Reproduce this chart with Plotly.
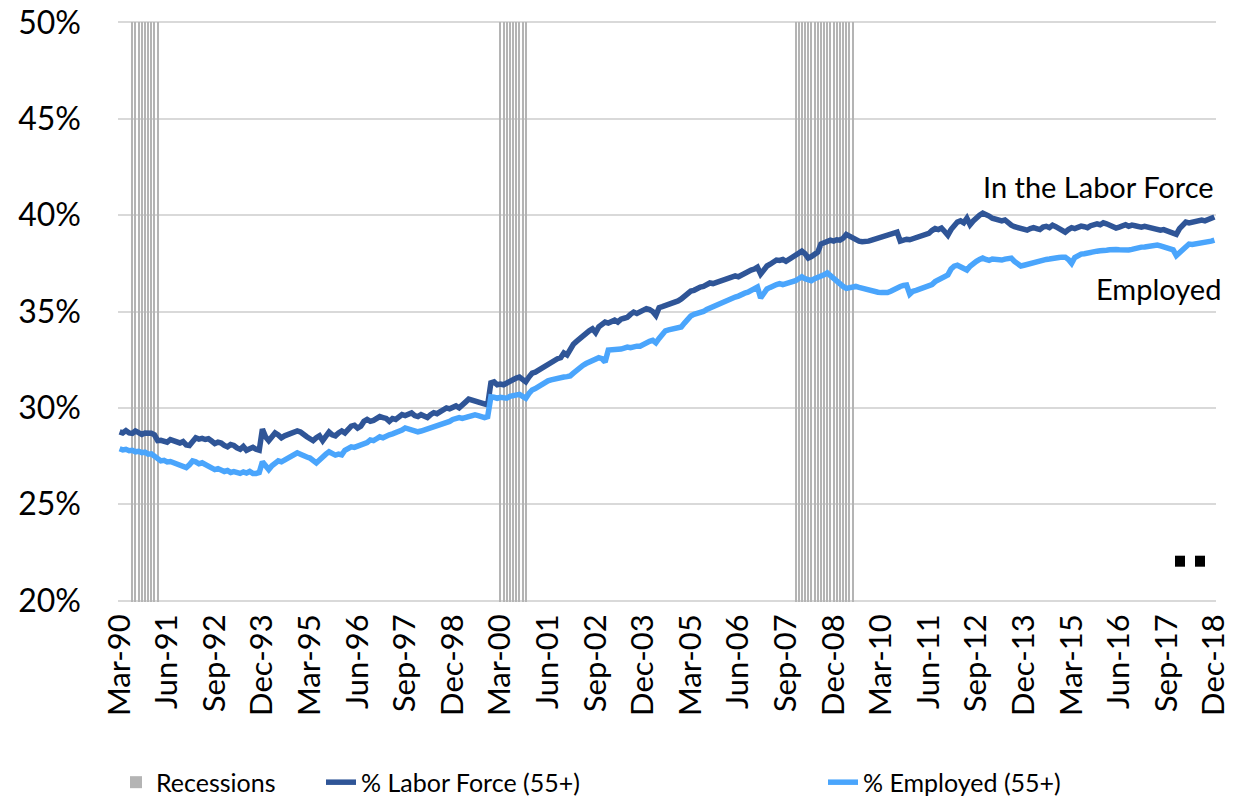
import pandas as pd
import plotly.graph_objects as go

# ---------------- data ----------------
months = pd.date_range("1990-03-01", "2018-12-01", freq="MS").strftime("%b-%y").tolist()

labor_force = [
    28.76, 28.7, 28.82, 28.7, 28.68, 28.8, 28.72, 28.62, 28.7, 28.72, 28.68, 28.6,
    28.3, 28.32, 28.28, 28.22, 28.35, 28.3, 28.22, 28.18, 28.25, 28.08, 28.05, 28.3,
    28.45, 28.38, 28.42, 28.36, 28.4, 28.28, 28.15, 28.22, 28.18, 28.05, 27.98, 28.1,
    28.05, 27.92, 27.85, 28.0, 27.8, 27.88, 27.95, 27.85, 27.8, 28.9, 28.5, 28.3,
    28.5, 28.7, 28.6, 28.45, 28.55, 28.6, 28.65, 28.7, 28.8, 28.75, 28.6, 28.5,
    28.4, 28.3, 28.45, 28.55, 28.3, 28.5, 28.75, 28.6, 28.55, 28.7, 28.8, 28.7,
    28.9, 29.05, 29.1, 28.95, 29.05, 29.3, 29.4, 29.3, 29.35, 29.45, 29.55, 29.5,
    29.45, 29.3, 29.45, 29.4, 29.55, 29.65, 29.6, 29.7, 29.74, 29.6, 29.55, 29.65,
    29.6, 29.5, 29.65, 29.75, 29.7, 29.8, 29.9, 30.0, 29.95, 30.05, 30.1, 30.0,
    30.2, 30.3, 30.45, 30.4, 30.35, 30.25, 30.2, 30.15, 30.15, 31.3, 31.35, 31.2,
    31.24, 31.2, 31.3, 31.35, 31.45, 31.55, 31.6, 31.5, 31.35, 31.6, 31.8, 31.85,
    31.95, 32.1, 32.2, 32.3, 32.4, 32.5, 32.55, 32.6, 32.85, 32.75, 33.1, 33.3,
    33.45, 33.6, 33.75, 33.85, 34.0, 34.1, 33.9, 34.2, 34.3, 34.45, 34.4, 34.5,
    34.55, 34.45, 34.6, 34.65, 34.7, 34.85, 34.97, 34.9, 35.0, 35.05, 35.15, 35.1,
    35.0, 34.8, 35.2, 35.25, 35.3, 35.35, 35.44, 35.5, 35.55, 35.65, 35.8, 35.95,
    36.06, 36.1, 36.2, 36.27, 36.3, 36.4, 36.48, 36.45, 36.5, 36.53, 36.6, 36.7,
    36.75, 36.8, 36.85, 36.8, 36.9, 37.0, 37.05, 37.15, 37.2, 37.3, 36.94, 37.2,
    37.36, 37.45, 37.55, 37.67, 37.65, 37.7, 37.6, 37.7, 37.85, 37.9, 38.0, 38.13,
    38.0, 37.77, 37.85, 37.95, 38.08, 38.5, 38.55, 38.6, 38.7, 38.65, 38.72, 38.7,
    38.8, 39.0, 38.9, 38.8, 38.7, 38.65, 38.62, 38.6, 38.65, 38.7, 38.75, 38.8,
    38.9, 38.96, 39.0, 39.05, 39.1, 39.12, 38.65, 38.7, 38.75, 38.72, 38.78, 38.8,
    38.85, 38.9, 38.96, 39.05, 39.2, 39.3, 39.25, 39.33, 39.15, 38.96, 39.25, 39.5,
    39.64, 39.7, 39.6, 39.84, 39.5, 39.7, 39.9, 40.0, 40.1, 40.05, 39.95, 39.84,
    39.8, 39.75, 39.7, 39.75, 39.6, 39.48, 39.4, 39.35, 39.3, 39.25, 39.22, 39.3,
    39.35, 39.3, 39.25, 39.38, 39.42, 39.35, 39.48, 39.4, 39.3, 39.25, 39.12, 39.25,
    39.35, 39.3, 39.38, 39.43, 39.4, 39.35, 39.45, 39.5, 39.55, 39.5, 39.6, 39.55,
    39.45, 39.4, 39.33, 39.38, 39.45, 39.5, 39.42, 39.48, 39.45, 39.4, 39.38, 39.42,
    39.38, 39.33, 39.28, 39.3, 39.22, 39.25, 39.2, 39.15, 39.1, 39.0, 39.3, 39.5,
    39.64, 39.6, 39.65, 39.7, 39.68, 39.74, 39.7, 39.75, 39.8, 39.9,
]

employed = [
    27.88, 27.82, 27.85, 27.78, 27.8, 27.72, 27.75, 27.68, 27.7, 27.6, 27.62, 27.5,
    27.3, 27.25, 27.28, 27.2, 27.22, 27.15, 27.1, 27.05, 27.0, 26.9, 27.05, 27.25,
    27.2, 27.1, 27.15, 27.05, 27.0, 26.9, 26.8, 26.85, 26.75, 26.7, 26.75, 26.65,
    26.7, 26.62, 26.6, 26.68, 26.62, 26.7, 26.6, 26.6, 26.65, 27.2, 27.0, 26.8,
    27.0, 27.15, 27.25, 27.2, 27.3, 27.4, 27.45, 27.55, 27.67, 27.6, 27.5, 27.45,
    27.4, 27.3, 27.15, 27.3, 27.5, 27.6, 27.72, 27.65, 27.55, 27.6, 27.56, 27.8,
    27.9, 27.98, 27.95, 28.0, 28.03, 28.1, 28.2, 28.34, 28.3, 28.4, 28.5, 28.45,
    28.55, 28.6, 28.65, 28.7, 28.75, 28.85, 28.96, 28.9, 28.85, 28.8, 28.76, 28.8,
    28.85, 28.9, 28.95, 29.0, 29.05, 29.1, 29.15, 29.25, 29.3, 29.4, 29.45, 29.5,
    29.45, 29.5, 29.55, 29.6, 29.64, 29.6, 29.55, 29.5, 29.55, 30.57, 30.55, 30.5,
    30.55, 30.5, 30.5, 30.6, 30.65, 30.67, 30.7, 30.6, 30.5, 30.75, 30.93, 31.0,
    31.1, 31.2, 31.35, 31.4, 31.45, 31.5, 31.52, 31.55, 31.6, 31.62, 31.66, 31.8,
    31.95, 32.07, 32.2, 32.3, 32.38, 32.45, 32.5, 32.6, 32.55, 32.38, 33.0, 33.0,
    33.05, 33.0, 33.05, 33.1, 33.15, 33.12, 33.18, 33.2, 33.2, 33.3, 33.42, 33.45,
    33.5, 33.37, 33.6, 33.8, 34.0, 34.05, 34.1, 34.1, 34.15, 34.2, 34.4, 34.6,
    34.77, 34.85, 34.9, 34.92, 35.0, 35.1, 35.18, 35.25, 35.3, 35.4, 35.5, 35.55,
    35.6, 35.7, 35.75, 35.8, 35.9, 35.95, 36.0, 36.1, 36.2, 36.27, 35.7, 36.0,
    36.17, 36.25, 36.35, 36.4, 36.45, 36.4, 36.45, 36.5, 36.5, 36.6, 36.7, 36.8,
    36.7, 36.65, 36.6, 36.7, 36.75, 36.8, 36.9, 37.0, 36.85, 36.7, 36.6, 36.45,
    36.3, 36.2, 36.25, 36.3, 36.3, 36.25, 36.2, 36.15, 36.1, 36.1, 36.05, 36.0,
    35.98, 35.95, 35.98, 36.05, 36.15, 36.27, 36.3, 36.35, 36.37, 35.9, 36.05, 36.1,
    36.15, 36.2, 36.25, 36.35, 36.4, 36.55, 36.63, 36.7, 36.8, 36.9, 37.2, 37.35,
    37.4, 37.3, 37.2, 37.15, 37.35, 37.5, 37.6, 37.7, 37.77, 37.7, 37.65, 37.72,
    37.7, 37.68, 37.67, 37.72, 37.75, 37.77, 37.6, 37.45, 37.36, 37.4, 37.45, 37.5,
    37.55, 37.57, 37.6, 37.65, 37.7, 37.72, 37.77, 37.75, 37.8, 37.82, 37.82, 37.7,
    37.5, 37.8, 37.9, 37.98, 38.0, 38.05, 38.1, 38.1, 38.13, 38.15, 38.2, 38.18,
    38.2, 38.24, 38.22, 38.2, 38.18, 38.15, 38.19, 38.22, 38.28, 38.3, 38.34, 38.35,
    38.38, 38.4, 38.42, 38.45, 38.4, 38.35, 38.3, 38.25, 38.2, 37.9, 38.05, 38.2,
    38.35, 38.5, 38.48, 38.5, 38.52, 38.55, 38.58, 38.6, 38.65, 38.7,
]

recession_starts = ["Jul-90", "Mar-00", "Dec-07"]
recession_ends = ["Mar-91", "Nov-00", "Jun-09"]
recession_level = 50

tick_labels = months[::15]
y_ticks = [20, 25, 30, 35, 40, 45, 50]

# recession indicator per month
recession = [None] * len(months)
for s, e in zip(recession_starts, recession_ends):
    for i in range(months.index(s), months.index(e) + 1):
        recession[i] = recession_level

FONT = "Lato"
DARK = "#2F5597"
LIGHT = "#4AA5FC"

fig = go.Figure()
fig.add_trace(go.Bar(
    x=months, y=recession, name="Recessions", width=0.32,
    marker=dict(color="#B4B4B4", line=dict(width=0)), legend="legend",
    hoverinfo="skip",
))
fig.add_trace(go.Scatter(
    x=months, y=labor_force, name="% Labor Force (55+)", mode="lines",
    line=dict(color=DARK, width=5.5), legend="legend2",
))
fig.add_trace(go.Scatter(
    x=months, y=employed, name="% Employed (55+)", mode="lines",
    line=dict(color=LIGHT, width=5.5), legend="legend3",
))

# page body has an 8px margin; figure is sized to fit inside the window
OFF = 8
W, H = 1239 - OFF, 801 - OFF
Y_TOP_PX, Y_BOT_PX = 22.0, 601.0          # screen y of 50% and 20%
PAD = 0.07                                 # small range padding so edge gridlines draw
unit = (Y_BOT_PX - Y_TOP_PX) / 30.0
PL = 118 - OFF
PR = W - (1216 - OFF)
PT = (Y_TOP_PX - PAD * unit) - OFF
PB = H - ((Y_BOT_PX + PAD * unit) - OFF)
pw = W - PL - PR
ph = H - PT - PB

def px(x):
    return (x - OFF - PL) / pw

def py(y):
    return (H - PB - (y - OFF)) / ph

legend_common = dict(orientation="h", yanchor="middle", xanchor="left",
                     font=dict(family=FONT, size=25, color="#000000"),
                     bgcolor="rgba(0,0,0,0)")

fig.update_layout(
    width=W, height=H,
    margin=dict(l=PL, r=PR, t=PT, b=PB, autoexpand=False),
    paper_bgcolor="white", plot_bgcolor="white",
    font=dict(family=FONT, color="#000000"),
    bargap=0,
    legend=dict(**legend_common, x=px(116), y=py(783)),
    legend2=dict(**legend_common, x=px(321), y=py(783)),
    legend3=dict(**legend_common, x=px(823), y=py(783)),
    xaxis=dict(
        type="category", range=[-0.5, len(months) - 0.5],
        tickmode="array", tickvals=tick_labels, ticktext=tick_labels,
        tickangle=-90, tickfont=dict(family=FONT, size=31, color="#000000"),
        showgrid=False, showline=False, zeroline=False, ticks="",
        ticklabelstandoff=5, automargin=False, ticklabeloverflow="allow",
    ),
    yaxis=dict(
        range=[20 - PAD, 50 + PAD], tickmode="array", tickvals=y_ticks,
        ticktext=[f"{v}%" for v in y_ticks],
        tickfont=dict(family=FONT, size=32, color="#000000"),
        showgrid=True, gridcolor="#D9D9D9", gridwidth=2,
        zeroline=False, showline=False, ticks="", ticklabelstandoff=36,
        automargin=False, ticklabeloverflow="allow",
    ),
    annotations=[
        dict(text="In the Labor Force", xref="paper", yref="paper",
             x=px(1216), y=py(186), xanchor="right", yanchor="middle",
             showarrow=False, font=dict(family=FONT, size=29, color="#000000")),
        dict(text="Employed", xref="paper", yref="paper",
             x=px(1223), y=py(288), xanchor="right", yanchor="middle",
             showarrow=False, font=dict(family=FONT, size=29, color="#000000")),
    ],
    shapes=[
        dict(type="rect", xref="paper", yref="paper", x0=px(1175), x1=px(1185),
             y0=py(567), y1=py(556), fillcolor="black", line=dict(width=0)),
        dict(type="rect", xref="paper", yref="paper", x0=px(1195), x1=px(1205),
             y0=py(567), y1=py(556), fillcolor="black", line=dict(width=0)),
    ],
    showlegend=True,
)

fig.write_html("out.html")
